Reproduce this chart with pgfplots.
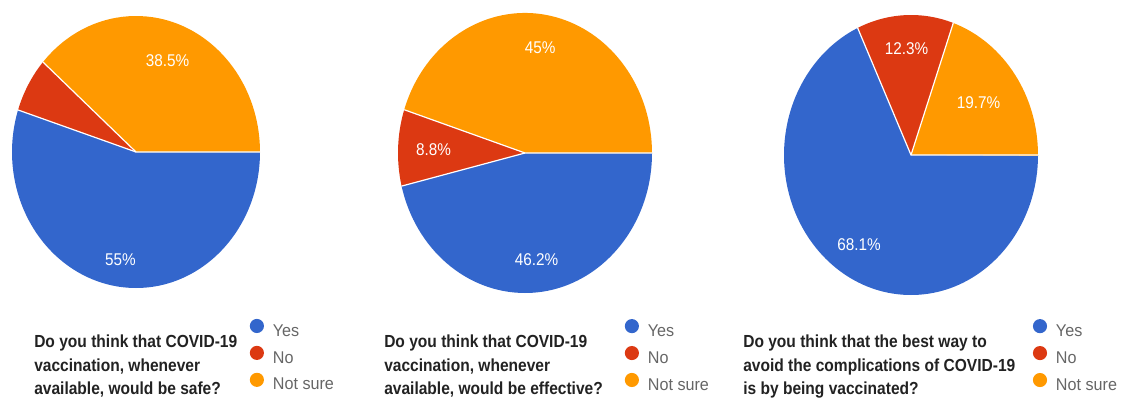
\documentclass[border=0pt]{standalone}
\usepackage{pgfplots}
\pgfplotsset{compat=1.18}
\usepackage{pgfplotstable}
\usepackage{fontspec}
\setmainfont{Liberation Sans}
\newfontfamily\titlefont[FakeStretch=0.89]{Liberation Sans}
\newfontfamily\labfont[FakeStretch=0.9]{Liberation Sans}
\newfontfamily\legfont[FakeStretch=0.95]{Liberation Sans}

\definecolor{cyes}{HTML}{3366CC}
\definecolor{cno}{HTML}{DC3912}
\definecolor{cns}{HTML}{FF9900}
\definecolor{legtext}{HTML}{666666}
\definecolor{titletext}{HTML}{222222}

\pgfplotstableread{
answer value
Yes 55.0
No 6.5
NotSure 38.5
}\safe
\pgfplotstableread{
answer value
Yes 46.2
No 8.8
NotSure 45.0
}\effective
\pgfplotstableread{
answer value
Yes 68.1
No 12.3
NotSure 19.7
}\best

\newcommand{\loadpie}[1]{%
  \pgfplotstablegetelem{0}{value}\of#1\let\vY\pgfplotsretval
  \pgfplotstablegetelem{1}{value}\of#1\let\vN\pgfplotsretval
  \pgfplotstablegetelem{2}{value}\of#1\let\vS\pgfplotsretval
  \pgfmathsetmacro\aY{-3.6*\vY}%
  \pgfmathsetmacro\aN{\aY-3.6*\vN}%
  \pgfmathsetmacro\aS{\aN-3.6*\vS}%
  \pgfmathsetmacro\mY{\aY/2}%
  \pgfmathsetmacro\mN{(\aY+\aN)/2}%
  \pgfmathsetmacro\mS{(\aN+\aS)/2}%
}

\newcommand{\drawslices}{%
  \fill[cyes] (axis cs:0,0) -- (axis cs:1,0) arc[start angle=0, end angle=\aY, x radius=\RX, y radius=\RY] -- cycle;
  \fill[cno] (axis cs:0,0) -- (axis cs:{cos(\aY)},{sin(\aY)}) arc[start angle=\aY, end angle=\aN, x radius=\RX, y radius=\RY] -- cycle;
  \fill[cns] (axis cs:0,0) -- (axis cs:{cos(\aN)},{sin(\aN)}) arc[start angle=\aN, end angle=\aS, x radius=\RX, y radius=\RY] -- cycle;
  \draw[white, line width=0.9pt] (axis cs:1,0) -- (axis cs:0,0) -- (axis cs:{cos(\aY)},{sin(\aY)});
  \draw[white, line width=0.9pt] (axis cs:0,0) -- (axis cs:{cos(\aN)},{sin(\aN)});
}

\newcommand{\pielabel}[3]{%
  \node[text=white, font=\labfont\fontsize{12.75}{12.75}\selectfont] at (axis cs:{#2*cos(#1)},{#2*sin(#1)}) {#3};%
}

\newcommand{\titleF}{\titlefont\bfseries\fontsize{13.1}{13.1}\selectfont}

\pgfplotsset{
  pieaxis/.style={anchor=origin, xmin=-1, xmax=1, ymin=-1, ymax=1, hide axis, clip=false,
    legend cell align=left,
    legend image code/.code={\fill (5.3pt,4.3pt) circle[radius=5.3pt]; \path (17.3pt,0pt);},
    legend style={draw=none, fill=none, inner sep=0pt, outer sep=0pt, anchor=north west,
      row sep=4.3pt, font=\legfont\fontsize{12.75}{12.75}\selectfont,
      nodes={inner sep=0pt, text height=9.6pt, text depth=3pt, text=legtext}}},
}

\begin{document}
\begin{tikzpicture}[x=0.75pt, y=0.75pt]
\path[use as bounding box] (0,0) rectangle (1128,397);

% ---------- Pie 1 ----------
\loadpie{\safe}\def\RX{93pt}\def\RY{102pt}
\begin{axis}[pieaxis, at={(102pt,183.75pt)}, x=93pt, y=102pt,
  legend style={at={(axis description cs:0.959,-0.1136)}}]
\drawslices
\pielabel{\mS}{0.72}{\pgfmathprintnumber[assume math mode=true]{\vS}\%}
\pielabel{\mY}{0.80}{\pgfmathprintnumber[assume math mode=true]{\vY}\%}
\addlegendimage{fill=cyes, draw=none}\addlegendentry{Yes}
\addlegendimage{fill=cno, draw=none}\addlegendentry{No}
\addlegendimage{fill=cns, draw=none}\addlegendentry{Not sure}
\end{axis}

% ---------- Pie 2 ----------
\loadpie{\effective}\def\RX{95.25pt}\def\RY{105pt}
\begin{axis}[pieaxis, at={(393.75pt,183pt)}, x=95.25pt, y=105pt,
  legend style={at={(axis description cs:0.893,-0.093)}}]
\drawslices
\pielabel{\mS}{0.76}{\pgfmathprintnumber[assume math mode=true]{\vS}\%}
\pielabel{\mN}{0.72}{\pgfmathprintnumber[assume math mode=true]{\vN}\%}
\pielabel{\mY}{0.77}{\pgfmathprintnumber[assume math mode=true]{\vY}\%}
\addlegendimage{fill=cyes, draw=none}\addlegendentry{Yes}
\addlegendimage{fill=cno, draw=none}\addlegendentry{No}
\addlegendimage{fill=cns, draw=none}\addlegendentry{Not sure}
\end{axis}

% ---------- Pie 3 ----------
\loadpie{\best}\def\RX{95.25pt}\def\RY{105pt}
\begin{axis}[pieaxis, at={(683.25pt,181.5pt)}, x=95.25pt, y=105pt,
  legend style={at={(axis description cs:0.980,-0.086)}}]
\drawslices
\pielabel{\mN}{0.76}{\pgfmathprintnumber[assume math mode=true]{\vN}\%}
\pielabel{\mS}{0.65}{\pgfmathprintnumber[assume math mode=true]{\vS}\%}
\pielabel{\mY}{0.76}{\pgfmathprintnumber[assume math mode=true]{\vY}\%}
\addlegendimage{fill=cyes, draw=none}\addlegendentry{Yes}
\addlegendimage{fill=cno, draw=none}\addlegendentry{No}
\addlegendimage{fill=cns, draw=none}\addlegendentry{Not sure}
\end{axis}

% ---------- Titles ----------
\begin{scope}[every node/.style={anchor=base west, inner sep=0pt, font=\titleF, text=titletext}]
\node at (34,50) {Do you think that COVID-19};
\node at (34,26) {vaccination, whenever};
\node at (34,3) {available, would be safe?};
\node at (384,50) {Do you think that COVID-19};
\node at (384,26) {vaccination, whenever};
\node at (384,3) {available, would be effective?};
\node at (743,50) {Do you think that the best way to};
\node at (743,26) {avoid the complications of COVID-19};
\node at (743,3) {is by being vaccinated?};
\end{scope}
\end{tikzpicture}
\end{document}
